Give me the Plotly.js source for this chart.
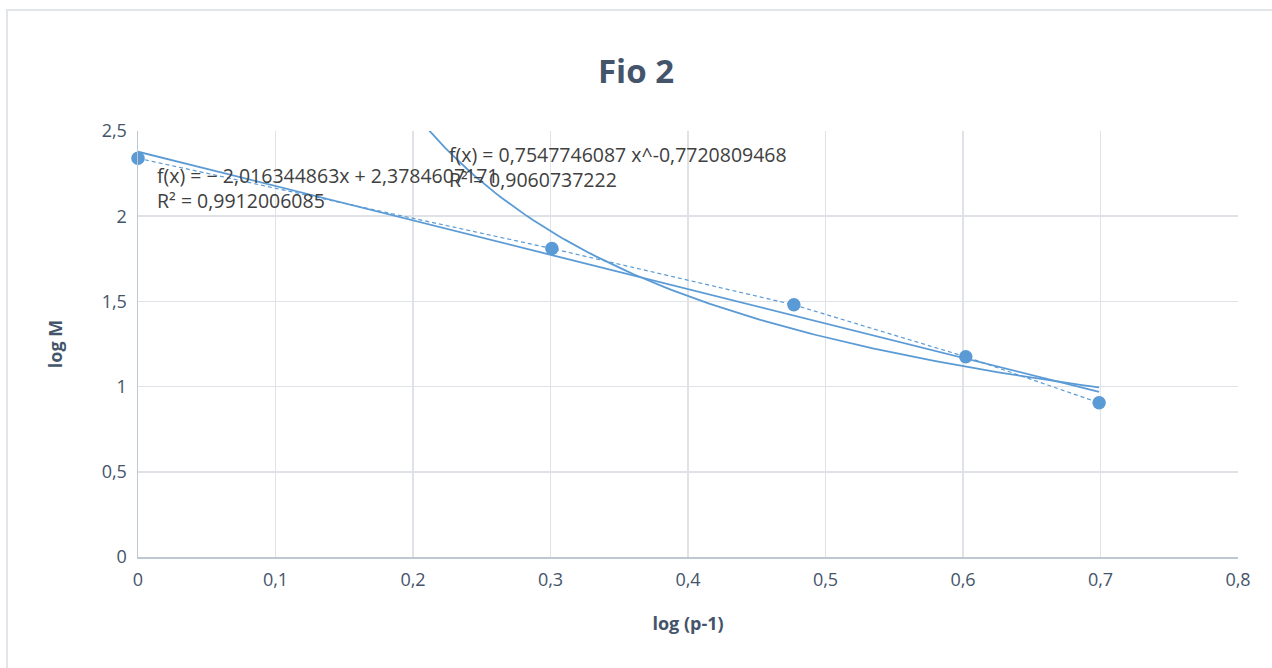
<!DOCTYPE html>
<html>
<head>
<meta charset="utf-8">
<script src="https://cdn.plot.ly/plotly-3.0.1.min.js"></script>
<style>
  html, body { margin: 0; padding: 0; background: #ffffff; }
  #frame { position: absolute; left: 6px; top: 9px; width: 1400px; height: 800px;
           border-left: 2px solid #e2e6eb; border-top: 2px solid #e2e6eb; }
  #chart { position: absolute; left: 0; top: 0; width: 1272px; height: 668px; }
</style>
</head>
<body>
<div id="frame"></div>
<div id="chart"></div>
<script>
// Data
const logP1 = [0, 0.301, 0.477, 0.602, 0.699];
const logM  = [2.34, 1.81, 1.48, 1.175, 0.905];

// Trendline coefficients shown on the chart
const linSlope = -2.016344863, linIntercept = 2.3784607171;
const powA = 0.7547746087, powB = -0.7720809468;

const linLabel = "f(x) = − 2,016344863x + 2,3784607171<br>R² = 0,9912006085";
const powLabel = "f(x) = 0,7547746087 x^-0,7720809468<br>R² = 0,9060737222";

const xTicks = [0, 0.1, 0.2, 0.3, 0.4, 0.5, 0.6, 0.7, 0.8];
const xTickText = ["0", "0,1", "0,2", "0,3", "0,4", "0,5", "0,6", "0,7", "0,8"];
const yTicks = [0, 0.5, 1, 1.5, 2, 2.5];
const yTickText = ["0", "0,5", "1", "1,5", "2", "2,5"];

const blue = "#5b9bd5";
const xMin = Math.min(...logP1), xMax = Math.max(...logP1);

// Linear trendline across the data range
const linX = [xMin, xMax];
const linY = linX.map(x => linSlope * x + linIntercept);

// Power trendline (sampled over the data range where defined)
const powX = [];
for (let i = 0; i <= 120; i++) { const x = 0.15 + (xMax - 0.15) * i / 120; powX.push(x); }
const powY = powX.map(x => powA * Math.pow(x, powB));

const traces = [
  { x: powX, y: powY, mode: "lines", line: { color: blue, width: 1.8 }, hoverinfo: "skip" },
  { x: linX, y: linY, mode: "lines", line: { color: blue, width: 1.8 }, hoverinfo: "skip" },
  { x: logP1, y: logM, mode: "lines+markers", cliponaxis: false,
    line: { color: blue, width: 1.2, dash: "4px,3px" },
    marker: { color: blue, size: 13.5 } }
];

const tickFont = { family: "Open Sans, sans-serif", size: 18, color: "#44546a" };
const axTitleFont = { family: "Open Sans, sans-serif", size: 18, color: "#44546a" };
const annFont = { family: "Open Sans, sans-serif", size: 19.5, color: "#404040" };

const layout = {
  width: 1272, height: 668,
  paper_bgcolor: "rgba(0,0,0,0)", plot_bgcolor: "rgba(0,0,0,0)",
  separators: ",.",
  showlegend: false,
  margin: { l: 138, r: 34, t: 131, b: 111, pad: 0 },
  title: { text: "<b>Fio 2</b>", x: 0.5, xanchor: "center", y: 0.893, yanchor: "middle",
           font: { family: "Open Sans, sans-serif", size: 33, color: "#44546a" } },
  xaxis: {
    range: [0, 0.8], tickvals: xTicks, ticktext: xTickText,
    showgrid: true, gridcolor: "#dfe3e8", gridwidth: 1.5,
    zeroline: false, showline: true, linecolor: "#bfc7d1", linewidth: 1.5,
    ticks: "", tickfont: tickFont, ticklabelstandoff: 6,
    title: { text: "<b>log (p-1)</b>", standoff: 27, font: axTitleFont },
    fixedrange: true
  },
  yaxis: {
    range: [0, 2.5], tickvals: yTicks, ticktext: yTickText,
    showgrid: true, gridcolor: "#dfe3e8", gridwidth: 1.5,
    zeroline: false, showline: true, linecolor: "#bfc7d1", linewidth: 1.5,
    ticks: "", tickfont: tickFont, ticklabelstandoff: 6,
    title: { text: "<b>log M</b>", standoff: 34, font: axTitleFont },
    fixedrange: true
  },
  annotations: [
    { x: 0.0124, y: 2.165, xref: "x", yref: "y", text: linLabel, showarrow: false,
      xanchor: "left", yanchor: "middle", align: "left", font: annFont },
    { x: 0.2247, y: 2.289, xref: "x", yref: "y", text: powLabel, showarrow: false,
      xanchor: "left", yanchor: "middle", align: "left", font: annFont }
  ]
};

Plotly.newPlot("chart", traces, layout, { displayModeBar: false, staticPlot: true });
</script>
</body>
</html>
